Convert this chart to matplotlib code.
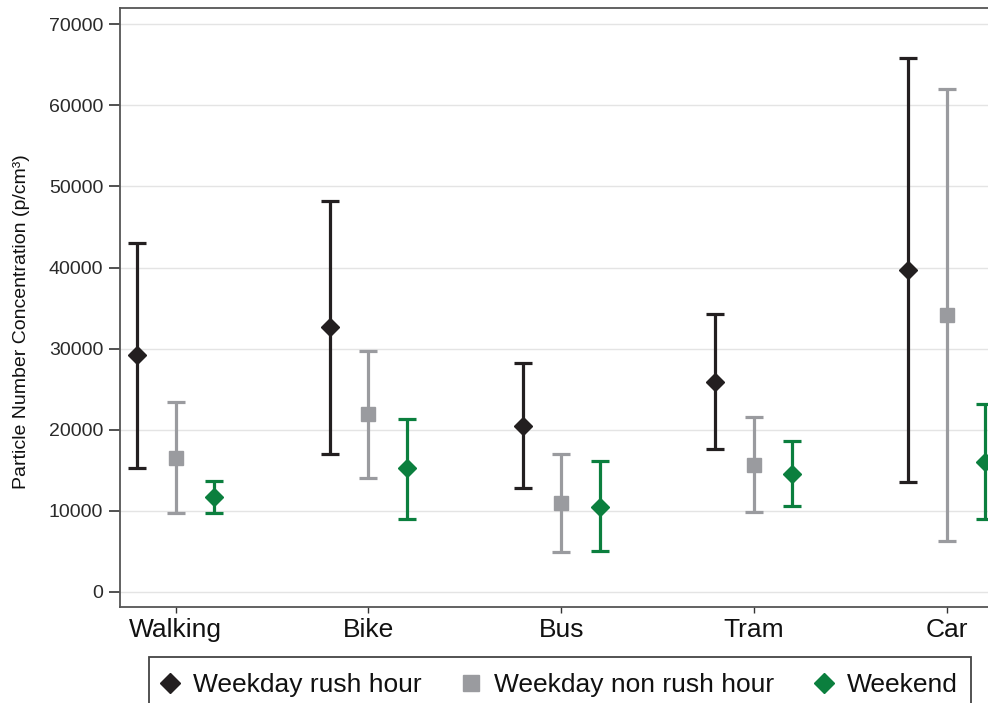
import matplotlib
matplotlib.use("Agg")
import matplotlib.pyplot as plt
from matplotlib.lines import Line2D
from matplotlib.patches import Rectangle
import numpy as np

plt.rcParams['font.family'] = ['Liberation Sans', 'DejaVu Sans']

categories = ["Walking", "Bike", "Bus", "Tram", "Car"]
series_names = ["Weekday rush hour", "Weekday non rush hour", "Weekend"]

rush_mean = [29200, 32700, 20500, 25900, 39700]
rush_low = [15300, 17000, 12800, 17600, 13600]
rush_high = [43000, 48200, 28200, 34300, 65800]

nonrush_mean = [16500, 21900, 11000, 15700, 34200]
nonrush_low = [9700, 14000, 4900, 9900, 6300]
nonrush_high = [23400, 29700, 17000, 21600, 62000]

weekend_mean = [11700, 15300, 10500, 14500, 16000]
weekend_low = [9700, 9000, 5000, 10600, 9000]
weekend_high = [13700, 21300, 16100, 18600, 23200]

yticks = [0, 10000, 20000, 30000, 40000, 50000, 60000, 70000]

colors = ["#231f20", "#9a9b9f", "#0b7f3e"]
markers = ["D", "s", "D"]
msizes = [9.5, 10.5, 9.5]
offsets = [-0.2, 0.0, 0.2]

W, H = 988, 703
fig = plt.figure(figsize=(W / 100, H / 100), dpi=100)
ax = fig.add_axes([120 / W, (H - 607) / H, (1002.4 - 120) / W, (607 - 8) / H])

x = np.arange(len(categories))
data = [(rush_mean, rush_low, rush_high),
        (nonrush_mean, nonrush_low, nonrush_high),
        (weekend_mean, weekend_low, weekend_high)]

for i, (m, lo, hi) in enumerate(data):
    m = np.array(m); lo = np.array(lo); hi = np.array(hi)
    ax.errorbar(x + offsets[i], m, yerr=[m - lo, hi - m], fmt="none",
                ecolor=colors[i], elinewidth=2.3, capsize=6.5, capthick=2.3,
                zorder=3)
    ax.plot(x + offsets[i], m, linestyle="none", marker=markers[i],
            markersize=msizes[i], color=colors[i], zorder=4)

ax.set_xlim(-0.289, len(categories) - 1 + 0.289)
ax.set_ylim(-1850, 72000)
ax.set_yticks(yticks)
ax.set_yticklabels([str(t) for t in yticks], fontsize=14, color="#2a2a2a")
ax.set_xticks(x)
ax.set_xticklabels(categories, fontsize=19, color="#111111")
ax.tick_params(axis="y", length=8, width=1.2, color="#333333", pad=4)
ax.tick_params(axis="x", length=4, width=1.0, color="#333333", pad=4)
ax.yaxis.grid(True, color="#e4e4e4", linewidth=1.0)
ax.set_axisbelow(True)
for s in ["left", "bottom", "top"]:
    ax.spines[s].set_color("#555555")
    ax.spines[s].set_linewidth(1.3)
ax.spines["right"].set_visible(False)

ax.set_ylabel("Particle Number Concentration (p/cm³)", fontsize=14,
              color="#111111")
ax.yaxis.set_label_coords(-90 / (1002.4 - 120), (607 - 322) / 599)

# legend frame (extends below the figure edge as in the reference)
fig.patches.append(Rectangle((149 / W, 1 - 730 / H), (971 - 149) / W,
                             (730 - 657) / H, transform=fig.transFigure,
                             fill=False, edgecolor="#444444", linewidth=1.3))

handles = [Line2D([], [], linestyle="none", marker=markers[i],
                  markersize=msizes[i] + 1, color=colors[i])
           for i in range(3)]
leg = fig.legend(handles, series_names, loc="center left",
                 bbox_to_anchor=(149 / W, 1 - 685 / H), ncol=3,
                 fontsize=19, frameon=False,
                 borderpad=0.4, handlelength=0.8, handletextpad=0.45,
                 columnspacing=1.5, borderaxespad=0)
for t in leg.get_texts():
    t.set_color("#111111")

fig.savefig("out.png", dpi=100)
